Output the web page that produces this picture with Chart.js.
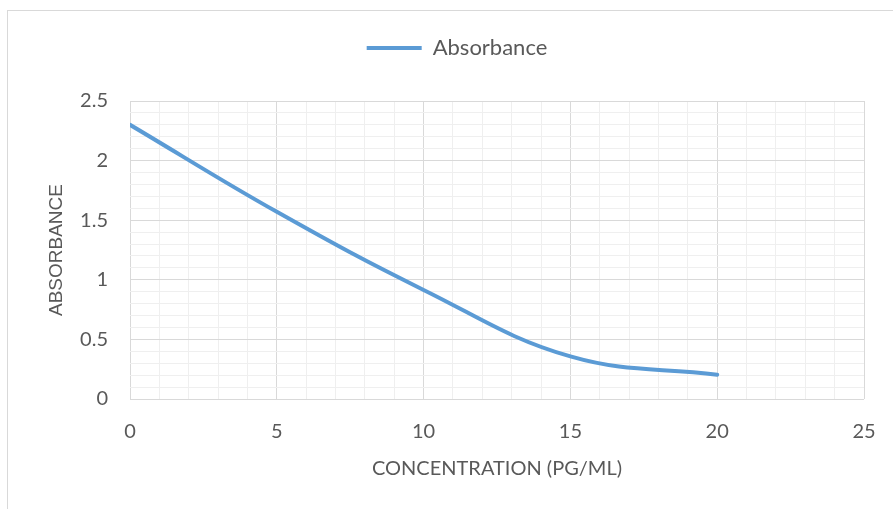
<!DOCTYPE html>
<html>
<head>
<meta charset="utf-8">
<script src="https://cdn.jsdelivr.net/npm/chart.js@4.4.1/dist/chart.umd.min.js"></script>
<style>
  html, body { margin: 0; padding: 0; background: #ffffff; }
  #wrap { position: relative; width: 893px; height: 509px; }
</style>
</head>
<body>
<div id="wrap"><canvas id="c" width="893" height="509"></canvas></div>
<script>
// ---- data ----
const concentration = [0, 5, 10, 15, 20];
const absorbance = [2.3, 1.57, 0.915, 0.357, 0.204];
const seriesName = 'Absorbance';
const xTitle = 'CONCENTRATION (PG/ML)';
const yTitle = 'ABSORBANCE';
const xRange = [0, 25];
const yRange = [0, 2.5];

const TEXT = '#595959';
const MAJOR = '#d9d9d9';
const MINOR = '#efefef';
const LINE = '#5b9bd5';

const frame = {
  id: 'frame',
  beforeDraw(chart) {
    const ctx = chart.ctx;
    ctx.save();
    ctx.strokeStyle = MAJOR;
    ctx.lineWidth = 1;
    ctx.strokeRect(7.5, 10.5, 1000, 1000);
    ctx.restore();
  }
};
const legendSpace = {
  id: 'legendSpace',
  beforeInit(chart) {
    const orig = chart.legend.fit;
    chart.legend.fit = function () { orig.bind(this)(); this.height += 32; };
  },
  afterLayout(chart) {
    chart.legend.left += 25;
    chart.legend.right += 25;
  }
};

new Chart(document.getElementById('c'), {
  type: 'line',
  data: {
    datasets: [{
      label: seriesName,
      data: concentration.map((x, i) => ({ x: x, y: absorbance[i] })),
      borderColor: LINE,
      backgroundColor: LINE,
      borderWidth: 4,
      borderCapStyle: 'round',
      pointRadius: 0,
      pointHoverRadius: 0,
      tension: 0.4,
      fill: false
    }]
  },
  plugins: [frame, legendSpace],
  options: {
    responsive: false,
    animation: false,
    layout: { padding: { top: 27, left: 0, right: 29, bottom: 0 } },
    plugins: {
      tooltip: { enabled: false },
      legend: {
        position: 'top',
        labels: {
          usePointStyle: true,
          pointStyle: 'line',
          pointStyleWidth: 55,
          color: TEXT,
          padding: 10,
          font: { family: 'Lato', size: 22 }
        }
      }
    },
    scales: {
      x: {
        type: 'linear',
        min: xRange[0], max: xRange[1],
        afterFit(s) { s.height = 110; },
        border: { display: false },
        grid: {
          drawTicks: true,
          tickLength: 21,
          tickColor: 'rgba(0,0,0,0)',
          color: (c) => (c.tick && Math.round(c.tick.value) % 5 === 0) ? MAJOR : MINOR,
          lineWidth: 1
        },
        ticks: {
          stepSize: 1,
          autoSkip: false,
          maxRotation: 0,
          padding: 0,
          color: TEXT,
          font: { family: 'Lato', size: 20 },
          callback: (v) => (Math.round(v) % 5 === 0 ? String(v) : '')
        },
        title: {
          display: true,
          text: xTitle,
          color: TEXT,
          font: { family: 'Lato', size: 20 },
          padding: { top: 0, bottom: 28 }
        }
      },
      y: {
        type: 'linear',
        min: yRange[0], max: yRange[1],
        afterFit(s) { s.width = 130; },
        border: { display: false },
        grid: {
          drawTicks: false,
          color: (c) => (c.tick && Math.round(c.tick.value * 10) % 5 === 0) ? MAJOR : MINOR,
          lineWidth: 1
        },
        ticks: {
          stepSize: 0.1,
          autoSkip: false,
          padding: 22,
          color: TEXT,
          font: { family: 'Lato', size: 20 },
          callback: (v) => {
            const t = Math.round(v * 10);
            return t % 5 === 0 ? String(t / 10) : '';
          }
        },
        title: {
          display: true,
          text: yTitle,
          color: TEXT,
          font: { family: 'Liberation Sans', size: 19 },
          padding: { top: 45, bottom: 0 }
        }
      }
    }
  }
});
</script>
</body>
</html>
